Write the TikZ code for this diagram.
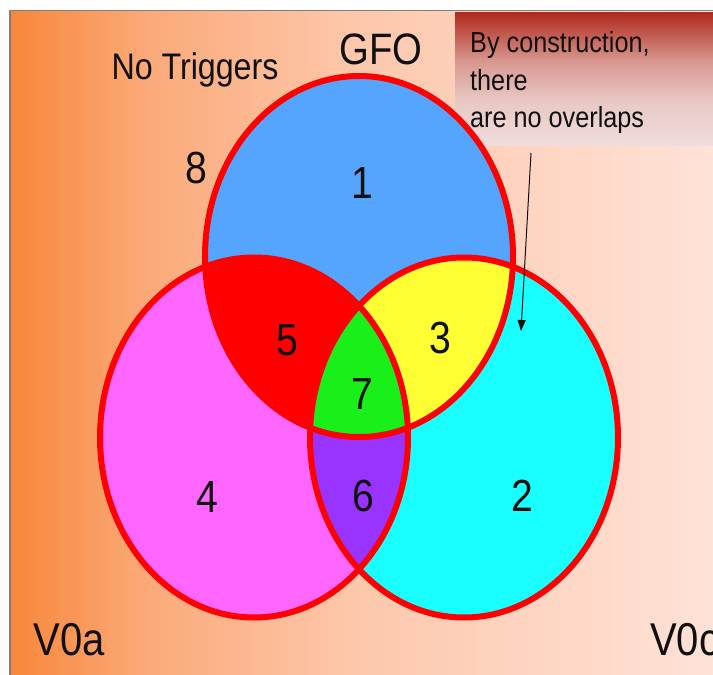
\documentclass[tikz,border=0pt]{standalone}
\usepackage{fontspec}
\setmainfont{Liberation Sans}[FakeStretch=0.87]
\usetikzlibrary{arrows.meta}
\definecolor{bgA}{RGB}{248,135,58}
\definecolor{bgB}{RGB}{251,170,122}
\definecolor{bgC}{RGB}{253,200,172}
\definecolor{bgD}{RGB}{255,226,216}
\definecolor{boxA}{RGB}{176,40,28}
\definecolor{boxB}{RGB}{215,150,142}
\definecolor{boxC}{RGB}{232,200,196}
\definecolor{boxD}{RGB}{240,220,220}
\definecolor{cBlue}{RGB}{85,165,255}
\definecolor{cPink}{RGB}{255,102,255}
\definecolor{cCyan}{RGB}{25,255,255}
\definecolor{cRed}{RGB}{255,0,0}
\definecolor{cYellow}{RGB}{255,255,51}
\definecolor{cGreen}{RGB}{25,240,25}
\definecolor{cPurple}{RGB}{153,51,255}
\definecolor{ink}{RGB}{16,16,16}
\begin{document}
\begin{tikzpicture}[x=1pt,y=-1pt,
  topE/.style={insert path={(359,256.5) ellipse [x radius=154pt, y radius=180.5pt]}},
  leftE/.style={insert path={(254,437.5) ellipse [x radius=154pt, y radius=180pt]}},
  rightE/.style={insert path={(464,437.5) ellipse [x radius=154pt, y radius=180pt]}},
  rim/.style={draw=cRed, line width=6pt},
  txt/.style={inner sep=0pt, text=ink},
  numtxt/.style={txt, font=\fontsize{45}{45}\selectfont},
  notetxt/.style={txt, anchor=base west, font=\fontsize{29}{29}\selectfont}]
\useasboundingbox (0,0) rectangle (713,675);
\fill[white] (0,0) rectangle (713,675);
% background gradient
\shade[left color=bgA, right color=bgB] (10,11) rectangle (150.5,675);
\shade[left color=bgB, right color=bgC] (150,11) rectangle (360.5,675);
\shade[left color=bgC, right color=bgD] (360,11) rectangle (713,675);
% note box
\shade[top color=boxA, bottom color=boxB] (455,12) rectangle (713,60.5);
\shade[top color=boxB, bottom color=boxC] (455,60) rectangle (713,100.5);
\shade[top color=boxC, bottom color=boxD] (455,100) rectangle (713,145);
% frame line
\draw[gray, line width=1.5pt] (10,675) -- (10,10.5) -- (713,10.5);
% circle fills
\fill[cBlue, topE];
\fill[cPink, leftE];
\fill[cCyan, rightE];
\begin{scope}
  \clip[topE];
  \fill[cRed, leftE];
  \fill[cYellow, rightE];
\end{scope}
\begin{scope}
  \clip[leftE];
  \fill[cPurple, rightE];
\end{scope}
\begin{scope}
  \clip[topE];
  \clip[leftE];
  \fill[cGreen, rightE];
\end{scope}
% outlines
\draw[rim, topE];
\draw[rim, leftE];
\draw[rim, rightE];
% labels
\node[txt, font=\fontsize{37}{37}\selectfont] (notrig) at (195,70) {No Triggers};
\node[txt, font=\fontsize{44}{44}\selectfont] (gfo) at (381,49) {GFO};
\node[numtxt] (n1) at (362,183) {1};
\node[numtxt] (n8) at (196,168) {8};
\node[numtxt] (n5) at (287,340) {5};
\node[numtxt] (n3) at (440,338) {3};
\node[numtxt] (n7) at (362,394) {7};
\node[numtxt] (n4) at (207,497) {4};
\node[numtxt] (n6) at (363,496) {6};
\node[numtxt] (n2) at (522,496) {2};
\node[txt, font=\fontsize{46}{46}\selectfont] (v0a) at (69,640) {V0a};
\node[txt, anchor=west, font=\fontsize{46}{46}\selectfont] (v0c) at (650,640) {V0c};
\node[notetxt] (note1) at (470,52) {By construction,};
\node[notetxt] (note2) at (470,90) {there};
\node[notetxt] (note3) at (470,127) {are no overlaps};
\coordinate (arrS) at (531,153);
\coordinate (arrE) at (521,331);
\draw[ink, line width=1pt, -{Triangle[length=11pt,width=8pt]}] (arrS) -- (arrE);
\end{tikzpicture}
\end{document}
